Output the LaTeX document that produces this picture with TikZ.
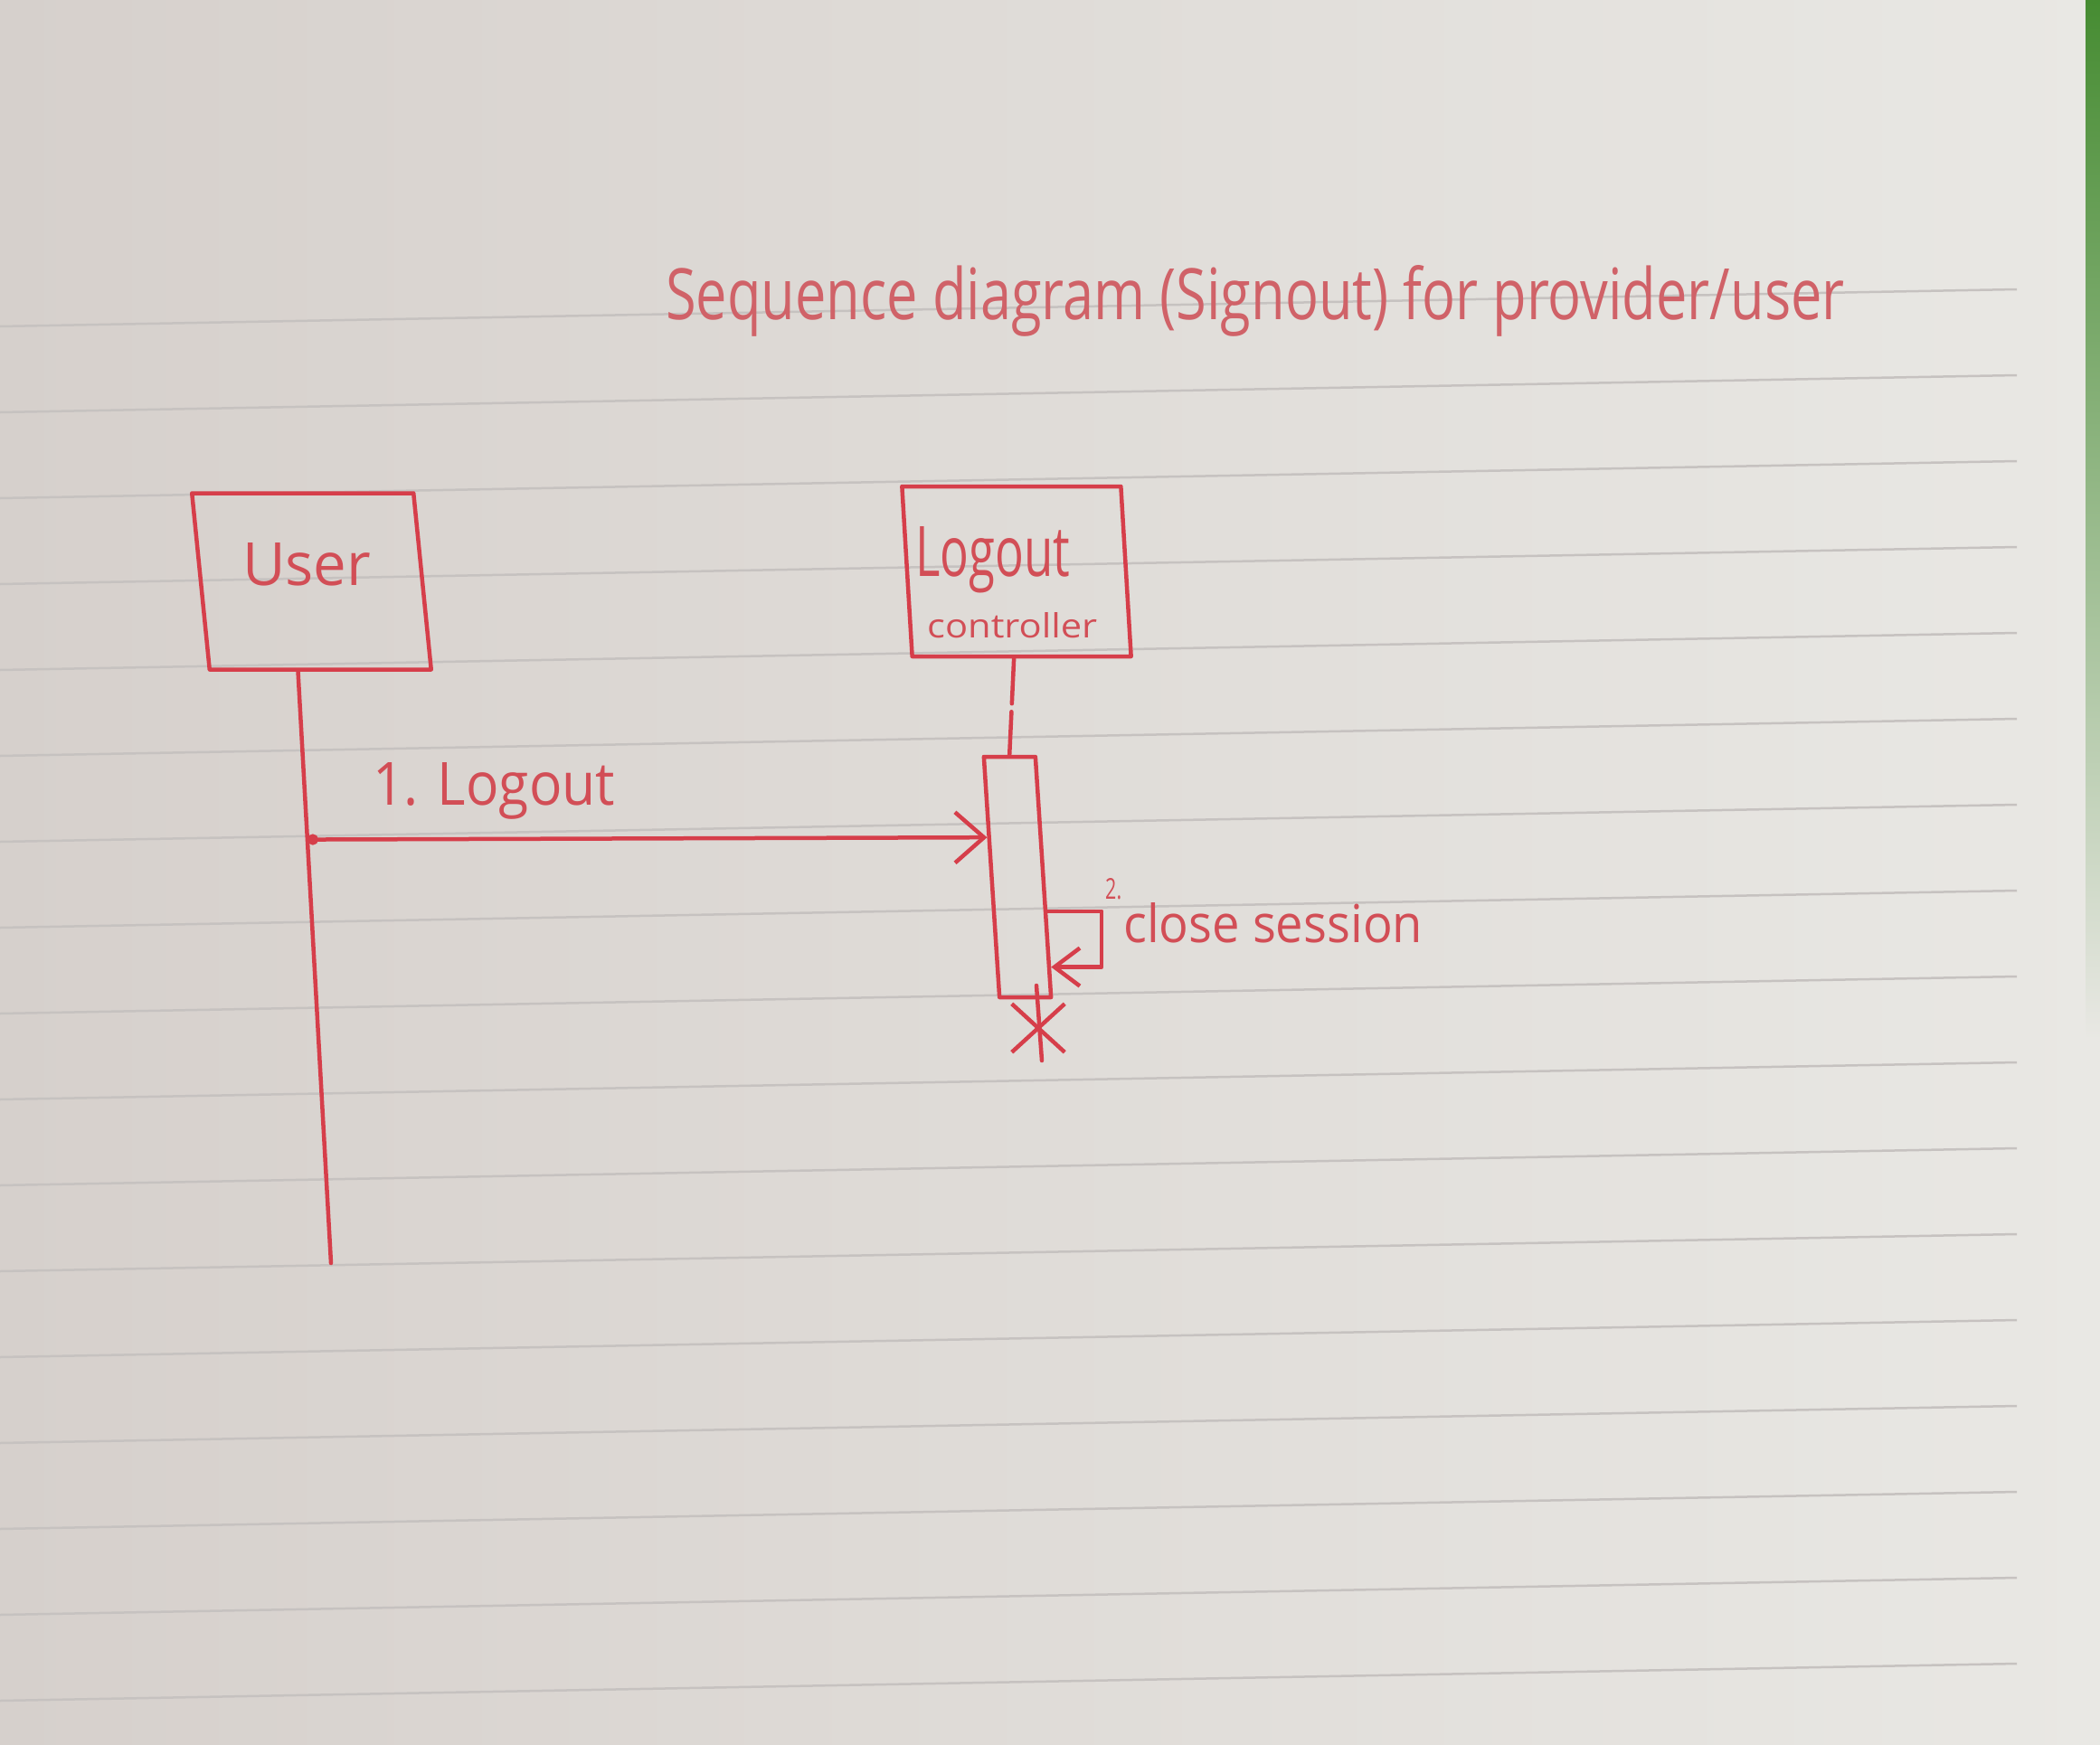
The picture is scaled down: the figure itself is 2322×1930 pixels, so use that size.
\documentclass[tikz,border=0pt]{standalone}
\usepackage{fontspec}
\setmainfont{Open Sans}
\usepackage{graphicx}
\usetikzlibrary{arrows.meta,calc,shapes.misc}
\definecolor{ink}{RGB}{214,62,74}
\definecolor{inktext}{RGB}{210,78,86}
\definecolor{inkfade}{RGB}{208,98,104}
\definecolor{paperL}{RGB}{214,208,204}
\definecolor{paperM}{RGB}{226,223,220}
\definecolor{paperR}{RGB}{233,232,228}
\definecolor{ruleline}{RGB}{198,194,192}
\definecolor{edgegreen}{RGB}{70,140,50}
\tikzset{
  pen/.style={draw=ink, line width=4.5pt, line cap=round, line join=round},
  lifebox/.style={pen, rectangle, inner sep=0pt},
  hand/.style={text=inktext, inner sep=0pt, anchor=base west},
}
\begin{document}
\begin{tikzpicture}[x=1pt,y=-1pt]
\useasboundingbox (0,0) rectangle (2322,1930);
% paper
\shade[left color=paperL, middle color=paperM, right color=paperR] (0,0) rectangle (2322,1930);
\foreach \k in {0,...,17}
  \draw[ruleline, line width=2.5pt] (0,{361+95*\k}) -- (2230,{320+95*\k});
\shade[top color=edgegreen, bottom color=paperR] (2306,0) rectangle (2322,1150);

% title
\node[hand, text=inkfade] (title) at (736,353)
  {\resizebox{1303pt}{60pt}{Sequence diagram (Signout) for provider/user}};

% lifeline heads
\node[lifebox, xslant=-0.1, minimum width=245pt, minimum height=195pt] (user) at (344.5,643) {};
\node[hand] (usertext) at (268,647) {\resizebox{142pt}{47pt}{User}};

\node[lifebox, xslant=-0.06, minimum width=242pt, minimum height=188pt] (ctrl) at (1124,632) {};
\node[hand] (ctrltext1) at (1012,637) {\resizebox{171pt}{55pt}{Logout}};
\node[hand] (ctrltext2) at (1025,705) {\resizebox{188pt}{28pt}{controller}};

% activation bar
\node[lifebox, xslant=-0.065, minimum width=57pt, minimum height=266pt] (bar) at (1125,970) {};

% lifelines
\coordinate (utop) at ($(user.south west)!0.4!(user.south east)$);
\coordinate (uend) at (366,1397);
\draw[pen] (utop) -- (uend);
\coordinate (ctop) at ($(ctrl.south west)!0.465!(ctrl.south east)$);
\draw[pen, dash pattern=on 50pt off 9pt] (ctop) -- (bar.north);

% message 1
\coordinate (m1s) at ($(utop)!0.284!(uend)$);
\coordinate (m1e) at ($(bar.north west)!0.338!(bar.south west)$);
\draw[pen, {Circle[length=12pt]}-{Straight Barb[length=32pt,width=56pt]}] (m1s) -- (m1e);
\node[hand] (m1lab) at (412,890) {\resizebox{268pt}{47pt}{1. Logout}};

% message 2 (self)
\coordinate (s1) at ($(bar.north east)!0.64!(bar.south east)$);
\coordinate (s2) at ($(bar.north east)!0.868!(bar.south east)$);
\draw[pen, -{Straight Barb[length=28pt,width=42pt]}] (s1) -- ++(60,0) |- (s2);
\node[hand] (m2num) at (1222,994) {\resizebox{18pt}{23pt}{2.}};
\node[hand] (m2lab) at (1242,1042) {\resizebox{331pt}{44pt}{close session}};

% destruction
\node[cross out, draw=ink, line width=4.5pt, minimum width=54pt, minimum height=49pt, inner sep=0pt] (kill) at (1148,1137) {};
\coordinate (kt) at ($(kill.center)+(-2,-47)$);
\coordinate (kb) at ($(kill.center)+(4,36)$);
\draw[pen] (kt) -- (kb);
\end{tikzpicture}
\end{document}
